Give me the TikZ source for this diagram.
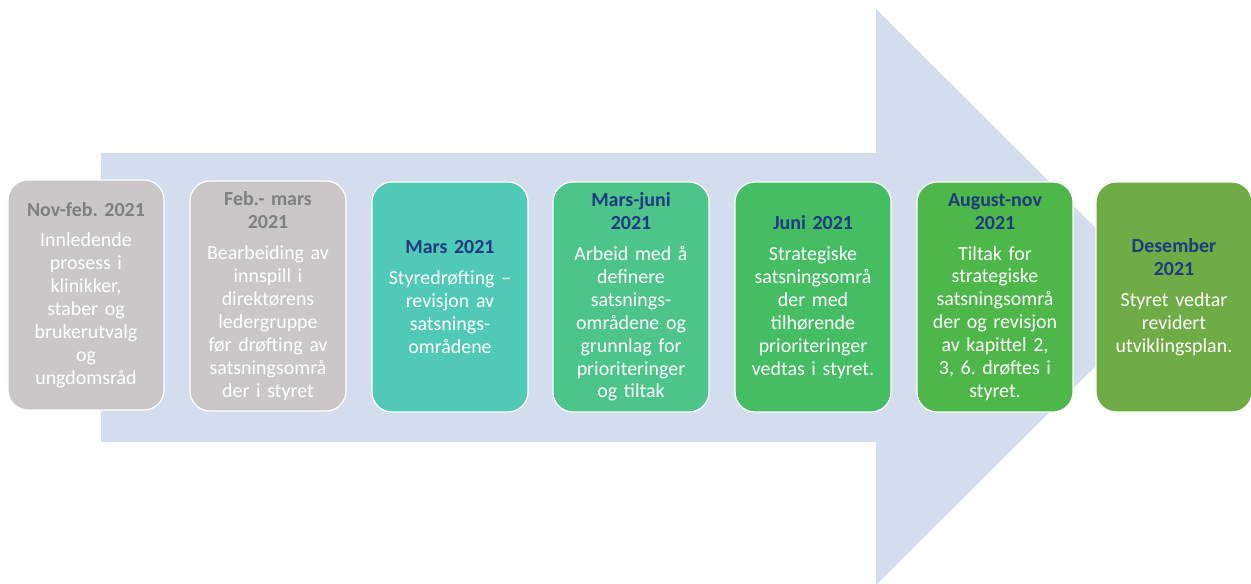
\documentclass[tikz,border=0pt]{standalone}
\usepackage{fontspec}
\setmainfont{Carlito}[WordSpace=0.8]
\definecolor{arrowblue}{HTML}{D3DDEE}
\definecolor{greybox}{HTML}{C9C7C7}
\definecolor{greyhead}{HTML}{7F7F7F}
\definecolor{navyhead}{HTML}{1F3A80}
\definecolor{c3}{HTML}{50C9B6}
\definecolor{c4}{HTML}{4CC48A}
\definecolor{c5}{HTML}{45BD63}
\definecolor{c6}{HTML}{4DB749}
\definecolor{c7}{HTML}{6FAC46}
\begin{document}
\begin{tikzpicture}[x=1bp,y=-1bp,
  stagebox/.style={draw=white, line width=1.2bp, rounded corners=20bp,
    minimum width=156bp, minimum height=230bp, text width=156bp,
    align=center, inner sep=0pt, text=white,
    font=\fontsize{20}{23}\selectfont\frenchspacing},
  greystage/.style={stagebox, fill=greybox}]
\useasboundingbox (0,0) rectangle (1251,584);
\fill[arrowblue] (101,153) -- (876,153) -- (876,9) -- (1165,297) -- (876,585)
  -- (876,442) -- (101,442) -- cycle;
\newcommand{\hgrey}[1]{{\bfseries\color{greyhead}#1}}
\newcommand{\hnavy}[1]{{\bfseries\color{navyhead}#1}}
\node[greystage] (b1) at (86,295) {\hgrey{Nov-feb. 2021}\\[8bp]Innledende\\prosess i\\klinikker,\\staber og\\brukerutvalg\\og\\ungdomsråd};
\node[greystage] (b2) at (268,296) {\hgrey{Feb.- mars}\\\hgrey{2021}\\[8bp]Bearbeiding av\\innspill i\\direktørens\\ledergruppe\\før drøfting av\\satsningsområ\\der i styret};
\node[stagebox, fill=c3] (b3) at (450,297) {\hnavy{Mars 2021}\\[8bp]Styredrøfting –\\revisjon av\\satsnings-\\områdene};
\node[stagebox, fill=c4] (b4) at (631,297) {\hnavy{Mars-juni}\\\hnavy{2021}\\[8bp]Arbeid med å\\definere\\satsnings-\\områdene og\\grunnlag for\\prioriteringer\\og tiltak};
\node[stagebox, fill=c5] (b5) at (813,297) {\hnavy{Juni 2021}\\[8bp]Strategiske\\satsningsområ\\der med\\tilhørende\\prioriteringer\\vedtas i styret.};
\node[stagebox, fill=c6] (b6) at (995,297) {\hnavy{August-nov}\\\hnavy{2021}\\[8bp]Tiltak for\\strategiske\\satsningsområ\\der og revisjon\\av kapittel 2,\\3, 6. drøftes i\\styret.};
\node[stagebox, fill=c7] (b7) at (1174,297) {\hnavy{Desember}\\\hnavy{2021}\\[8bp]Styret vedtar\\revidert\\utviklingsplan.};
\end{tikzpicture}
\end{document}
